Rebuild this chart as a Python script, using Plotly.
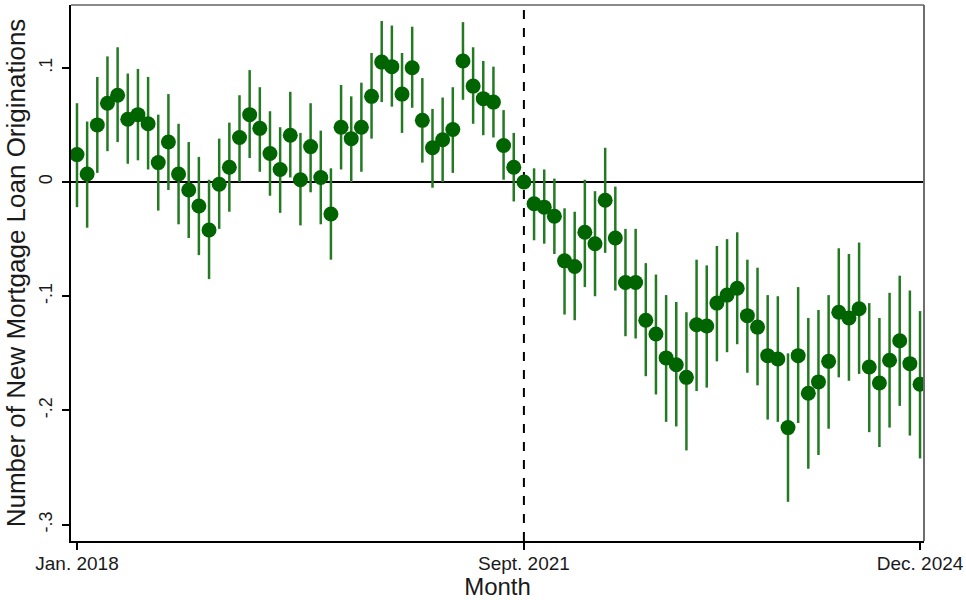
import plotly.graph_objects as go

# Event-study coefficients (month index 0 = Jan. 2018, 44 = Sept. 2021, 83 = Dec. 2024)
coef = [0.024, 0.007, 0.050, 0.069, 0.076, 0.055, 0.059, 0.051, 0.017, 0.035,
        0.007, -0.007, -0.021, -0.042, -0.002, 0.013, 0.039, 0.059, 0.047, 0.025,
        0.011, 0.041, 0.002, 0.031, 0.004, -0.028, 0.048, 0.038, 0.048, 0.075,
        0.105, 0.101, 0.077, 0.100, 0.054, 0.030, 0.037, 0.046, 0.106, 0.084,
        0.073, 0.070, 0.032, 0.013, 0.000, -0.019, -0.022, -0.030, -0.069, -0.074,
        -0.044, -0.054, -0.016, -0.049, -0.088, -0.088, -0.121, -0.133, -0.154, -0.160,
        -0.171, -0.125, -0.126, -0.106, -0.099, -0.093, -0.117, -0.127, -0.152, -0.155,
        -0.215, -0.152, -0.185, -0.175, -0.157, -0.114, -0.119, -0.111, -0.162, -0.176,
        -0.156, -0.139, -0.159, -0.177]
ci_lo = [-0.022, -0.040, 0.008, 0.027, 0.035, 0.016, 0.019, 0.011, -0.025, -0.007,
         -0.037, -0.049, -0.064, -0.085, -0.041, -0.026, 0.000, 0.021, 0.009, -0.012,
         -0.027, 0.004, -0.038, -0.009, -0.037, -0.068, 0.011, 0.000, 0.009, 0.038,
         0.070, 0.066, 0.043, 0.065, 0.017, -0.005, 0.000, 0.008, 0.072, 0.051,
         0.041, 0.039, 0.002, -0.017, 0.000, -0.051, -0.054, -0.063, -0.116, -0.121,
         -0.092, -0.100, -0.062, -0.095, -0.135, -0.137, -0.170, -0.186, -0.210, -0.214,
         -0.235, -0.183, -0.180, -0.157, -0.149, -0.142, -0.167, -0.178, -0.208, -0.210,
         -0.280, -0.211, -0.251, -0.239, -0.216, -0.171, -0.174, -0.168, -0.219, -0.232,
         -0.215, -0.196, -0.222, -0.242]
ci_hi = [0.069, 0.053, 0.092, 0.110, 0.118, 0.095, 0.099, 0.092, 0.059, 0.077,
         0.051, 0.035, 0.022, 0.002, 0.038, 0.052, 0.076, 0.098, 0.083, 0.062,
         0.048, 0.079, 0.043, 0.069, 0.045, 0.012, 0.085, 0.075, 0.087, 0.113,
         0.141, 0.137, 0.113, 0.136, 0.091, 0.064, 0.074, 0.083, 0.140, 0.118,
         0.106, 0.101, 0.063, 0.043, 0.000, 0.012, 0.011, 0.003, -0.023, -0.026,
         0.002, -0.008, 0.030, -0.004, -0.041, -0.041, -0.071, -0.081, -0.099, -0.105,
         -0.114, -0.068, -0.073, -0.056, -0.050, -0.044, -0.068, -0.075, -0.099, -0.100,
         -0.150, -0.092, -0.119, -0.112, -0.099, -0.058, -0.063, -0.053, -0.106, -0.119,
         -0.097, -0.082, -0.095, -0.113]

month_idx = list(range(len(coef)))
x_tick_vals = [0, 44, 83]
x_tick_text = ["Jan. 2018", "Sept. 2021", "Dec. 2024"]
y_tick_vals = [0.1, 0, -0.1, -0.2, -0.3]
y_tick_text = [".1", "0", "-.1", "-.2", "-.3"]
treat_month = 44

err_plus = [h - c for h, c in zip(ci_hi, coef)]
err_minus = [c - l for c, l in zip(coef, ci_lo)]

FONT = "Liberation Sans, Arial, sans-serif"

fig = go.Figure()
fig.add_trace(go.Scatter(
    x=month_idx, y=coef, mode="markers",
    marker=dict(size=15, color="#006400"),
    error_y=dict(type="data", symmetric=False, array=err_plus, arrayminus=err_minus,
                 color="#237a23", thickness=2.5, width=0),
    showlegend=False,
))

fig.add_hline(y=0, line=dict(color="black", width=2), layer="below")
fig.add_shape(type="line", xref="x", yref="paper", x0=treat_month, x1=treat_month,
              y0=0, y1=1, line=dict(color="black", width=2, dash="dash"), layer="below")
# frame: top & right in grey
fig.add_shape(type="line", xref="paper", yref="paper", x0=0, x1=1, y0=1, y1=1,
              line=dict(color="#8a8a8a", width=2))
fig.add_shape(type="line", xref="paper", yref="paper", x0=1, x1=1, y0=0, y1=1,
              line=dict(color="#6e6e6e", width=2))

fig.update_layout(
    width=966, height=600,
    margin=dict(l=71, r=42, t=5, b=59),
    paper_bgcolor="white", plot_bgcolor="white",
    font=dict(family=FONT, color="#1a1a1a"),
)
fig.update_xaxes(
    range=[-0.59, 83.39], tickmode="array", tickvals=x_tick_vals, ticktext=x_tick_text,
    ticklabelstandoff=-3,
    showgrid=False, zeroline=False, showline=True, linecolor="black", linewidth=2,
    ticks="outside", ticklen=7, tickwidth=1.5, tickcolor="black",
    tickfont=dict(size=19, family=FONT),
    title=dict(text="Month", font=dict(size=24, family=FONT), standoff=20),
    automargin=False,
)
fig.update_yaxes(
    range=[-0.3143, 0.155], tickmode="array", tickvals=y_tick_vals, ticktext=y_tick_text,
    tickangle=-90, ticklabelstandoff=3,
    showgrid=False, zeroline=False, showline=True, linecolor="black", linewidth=2,
    ticks="outside", ticklen=7, tickwidth=1.5, tickcolor="black",
    tickfont=dict(size=18, family=FONT),
    title=dict(text="Number of New Mortgage Loan Originations", font=dict(size=26, family=FONT), standoff=3),
    automargin=False,
)

fig.write_html("out.html", config={"displayModeBar": False},
               post_script="document.body.style.margin='0';")
